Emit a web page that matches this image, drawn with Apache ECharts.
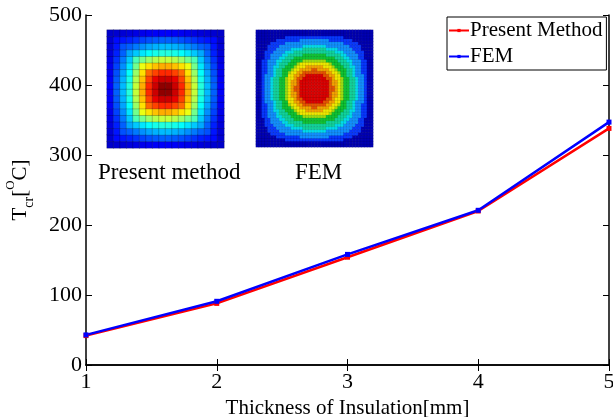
<!DOCTYPE html>
<html>
<head>
<meta charset="UTF-8">
<title>Tcr vs insulation</title>
<script src="https://cdn.jsdelivr.net/npm/echarts@6/dist/echarts.min.js"></script>
<style>
  html,body{margin:0;padding:0;background:#fff;}
  #main{width:613px;height:417px;}
</style>
</head>
<body>
<div id="main"></div>
<script>
// thickness of insulation [mm]
var thickness = [1, 2, 3, 4, 5];
// critical temperature [oC]
var presentMethod = [42, 88, 154, 220, 338];
var fem = [43, 91, 158, 221, 347];
var yTicks = [0, 100, 200, 300, 400, 500];

// inset maps: 1D profiles read across the middle row of each picture
var pmProfile = [0.12, 0.22, 0.31, 0.41, 0.57, 0.71, 0.84, 0.93, 0.99,
                 0.99, 0.93, 0.84, 0.71, 0.57, 0.41, 0.31, 0.22, 0.12];
var femProfile = [0.04, 0.12, 0.20, 0.27, 0.35, 0.42, 0.49, 0.56, 0.62, 0.68,
                  0.73, 0.79, 0.83, 0.87, 0.91, 0.94, 0.96, 0.98, 0.99, 1.00,
                  1.00, 0.99, 0.98, 0.96, 0.94, 0.91, 0.87, 0.83, 0.79, 0.73,
                  0.68, 0.62, 0.56, 0.49, 0.42, 0.35, 0.27, 0.20, 0.12, 0.04];
// contour levels of the FEM picture (band edges along the middle row)
var femLevels = [0.14, 0.25, 0.40, 0.47, 0.59, 0.69, 0.74, 0.81, 0.87, 0.92];
var femBandColors = ['#0000b4', '#0838ff', '#1090ff', '#00dcea', '#10d49c', '#10c434',
                     '#9cdc10', '#f0e800', '#f4a400', '#e65400', '#dc0000'];
var jet = ['#00008f', '#0000ff', '#0080ff', '#00ffff', '#80ff80', '#ffff00', '#ff8000', '#ff0000', '#800000'];

function pmCells(p) {
  var out = [];
  for (var i = 0; i < p.length; i++)
    for (var j = 0; j < p.length; j++)
      out.push([i, j, (Math.min(p[i], p[j]) + p[i] * p[j]) / 2]);
  return out;
}
function femCells(p, levels) {
  var out = [];
  for (var i = 0; i < p.length; i++)
    for (var j = 0; j < p.length; j++) {
      var v = p[i] * p[j], b = 0;
      while (b < levels.length && v >= levels[b]) b++;
      out.push([i, j, b]);
    }
  return out;
}
function idx(n) { var a = []; for (var i = 0; i < n; i++) a.push(i); return a; }

var serif = '"Liberation Serif", "DejaVu Serif", serif';
var chart = echarts.init(document.getElementById('main'));

var option = {
  animation: false,
  textStyle: { fontFamily: serif },
  grid: [
    { left: 86, right: 4, top: 15, bottom: 52, show: false, containLabel: false, outerBoundsMode: 'none' },
    { left: 107, top: 30, width: 117, height: 118, outerBoundsMode: 'none' },
    { left: 256, top: 30, width: 117, height: 117, outerBoundsMode: 'none' }
  ],
  legend: {
    orient: 'vertical',
    left: 447, top: 17,
    itemWidth: 20, itemHeight: 4, itemGap: 5,
    padding: [3, 4, 3, 1],
    borderColor: '#000', borderWidth: 1,
    backgroundColor: '#fff',
    textStyle: { fontFamily: serif, fontSize: 21, color: '#000', padding: [0, 0, 0, -4] },
    data: ['Present Method', 'FEM']
  },
  visualMap: [
    { show: false, seriesIndex: 2, min: 0, max: 1, inRange: { color: jet } },
    { show: false, type: 'piecewise', seriesIndex: 3,
      pieces: femBandColors.map(function (c, k) { return { value: k, color: c }; }) }
  ],
  xAxis: [
    { type: 'value', gridIndex: 0, min: 1, max: 5, interval: 1,
      name: 'Thickness of Insulation[mm]', nameLocation: 'middle', nameGap: 24,
      nameTextStyle: { fontFamily: serif, fontSize: 21, color: '#000' },
      axisLine: { lineStyle: { color: '#000', width: 1.5 } },
      axisTick: { inside: true, length: 6, lineStyle: { color: '#000' } },
      axisLabel: { fontFamily: serif, fontSize: 22, color: '#000', margin: 6 },
      splitLine: { show: false } },
    { type: 'value', gridIndex: 0, position: 'top', min: 1, max: 5, interval: 1,
      axisLine: { lineStyle: { color: '#000', width: 1.5 } },
      axisTick: { inside: true, length: 6, lineStyle: { color: '#000' } },
      axisLabel: { show: false }, splitLine: { show: false } },
    { type: 'category', gridIndex: 1, data: idx(pmProfile.length), show: false },
    { type: 'category', gridIndex: 2, data: idx(femProfile.length), show: false }
  ],
  yAxis: [
    { type: 'value', gridIndex: 0, min: 0, max: 500, interval: 100,
      name: '{t|T}{s|cr}{t|[}{u|O}{t|C]}', nameLocation: 'middle', nameGap: 50, nameRotate: 90,
      nameTextStyle: { color: '#000', fontFamily: serif,
        rich: {
          t: { fontSize: 21, fontFamily: serif, color: '#000', lineHeight: 32, verticalAlign: 'middle' },
          s: { fontSize: 14, fontFamily: serif, color: '#000', verticalAlign: 'bottom', lineHeight: 14 },
          u: { fontSize: 13, fontFamily: serif, color: '#000', verticalAlign: 'top', lineHeight: 13 }
        } },
      axisLine: { show: true, lineStyle: { color: '#000', width: 1.5 } },
      axisTick: { show: true, inside: true, length: 6, lineStyle: { color: '#000' } },
      axisLabel: { fontFamily: serif, fontSize: 22, color: '#000', margin: 4,
        formatter: function (v) { return yTicks.indexOf(v) >= 0 ? String(v) : ''; } },
      splitLine: { show: false } },
    { type: 'value', gridIndex: 0, position: 'right', min: 0, max: 500, interval: 100,
      axisLine: { show: true, lineStyle: { color: '#000', width: 1.5 } },
      axisTick: { show: true, inside: true, length: 6, lineStyle: { color: '#000' } },
      axisLabel: { show: false }, splitLine: { show: false } },
    { type: 'category', gridIndex: 1, data: idx(pmProfile.length), show: false },
    { type: 'category', gridIndex: 2, data: idx(femProfile.length), show: false }
  ],
  series: [
    { name: 'Present Method', type: 'line', xAxisIndex: 0, yAxisIndex: 0,
      data: thickness.map(function (x, i) { return [x, presentMethod[i]]; }),
      symbol: 'rect', symbolSize: 5, color: '#ff0000',
      lineStyle: { width: 2.5, color: '#ff0000' }, itemStyle: { color: '#ff0000' } },
    { name: 'FEM', type: 'line', xAxisIndex: 0, yAxisIndex: 0,
      data: thickness.map(function (x, i) { return [x, fem[i]]; }),
      symbol: 'rect', symbolSize: 5, color: '#0000ff',
      lineStyle: { width: 2.5, color: '#0000ff' }, itemStyle: { color: '#0000ff' } },
    { type: 'heatmap', xAxisIndex: 2, yAxisIndex: 2, data: pmCells(pmProfile),
      itemStyle: { borderColor: 'rgba(0,0,0,0.35)', borderWidth: 0.6 } },
    { type: 'heatmap', xAxisIndex: 3, yAxisIndex: 3, data: femCells(femProfile, femLevels),
      itemStyle: { borderColor: 'rgba(0,0,0,0.22)', borderWidth: 0.4 } }
  ],
  graphic: [
    { type: 'text', left: 98, top: 161, style: { text: 'Present method', font: '23px ' + serif, fill: '#000' } },
    { type: 'text', left: 295, top: 161, style: { text: 'FEM', font: '23px ' + serif, fill: '#000' } }
  ]
};
chart.setOption(option);
</script>
</body>
</html>
